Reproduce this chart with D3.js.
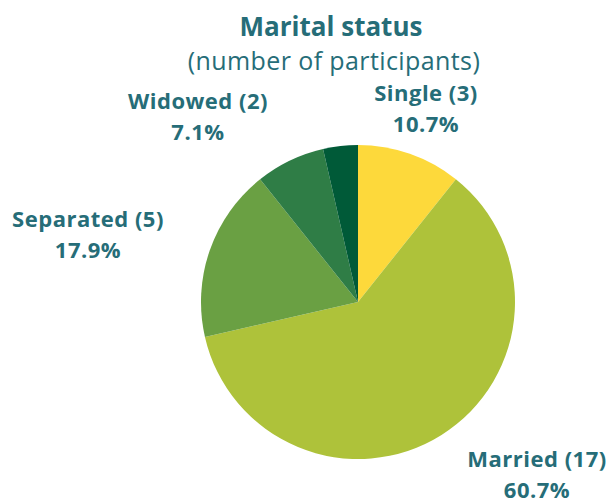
<!DOCTYPE html>
<html><head><meta charset="utf-8">
<script src="https://cdn.jsdelivr.net/npm/d3@7"></script>
<style>body{margin:0;background:#fff}text{font-family:"Open Sans",sans-serif}</style>
</head><body><svg id="c" width="608" height="502"></svg>
<script>
const categories = ["Single", "Married", "Separated", "Widowed", "Other"];
const counts = [3, 17, 5, 2, 1];
const colors = ["#fdd93b", "#aec23a", "#6aa043", "#2f7d46", "#005a38"];
const showLabel = [true, true, true, true, false];
const title = "Marital status";
const subtitle = "(number of participants)";

const svg = d3.select("#c");
const textColor = "#266d78";
const cx = 358, cy = 302, r = 157;
const total = d3.sum(counts);
const data = categories.map((c, i) => ({cat: c, n: counts[i], color: colors[i], show: showLabel[i]}));
const pie = d3.pie().value(d => d.n).sort(null);
const arc = d3.arc().innerRadius(0).outerRadius(r);
const arcs = pie(data);

const g = svg.append("g").attr("transform", `translate(${cx},${cy})`);
g.selectAll("path").data(arcs).join("path")
  .attr("d", arc).attr("fill", d => d.data.color);

svg.append("text").attr("x", 331).attr("y", 36).attr("text-anchor", "middle")
  .attr("font-size", 26).attr("font-weight", 700).attr("fill", textColor).text(title);
svg.append("text").attr("x", 334).attr("y", 70).attr("text-anchor", "middle")
  .attr("font-size", 25).attr("letter-spacing", 0.4).attr("fill", textColor).text(subtitle);

// label layout (absolute centre of first line baseline)
const labelPos = {Single: [426, 101], Married: [537, 467], Separated: [88, 227], Widowed: [198, 109]};
const fmt = d3.format(".1f");
arcs.filter(d => d.data.show).forEach(d => {
  const [x, y] = labelPos[d.data.cat];
  const t = svg.append("text").attr("text-anchor", "middle").attr("font-size", 22)
    .attr("letter-spacing", 0.5).attr("font-weight", 700).attr("fill", textColor);
  t.append("tspan").attr("x", x).attr("y", y).text(`${d.data.cat} (${d.data.n})`);
  t.append("tspan").attr("x", x).attr("y", y + 31).text(`${fmt(d.data.n / total * 100)}%`);
});
</script></body></html>
